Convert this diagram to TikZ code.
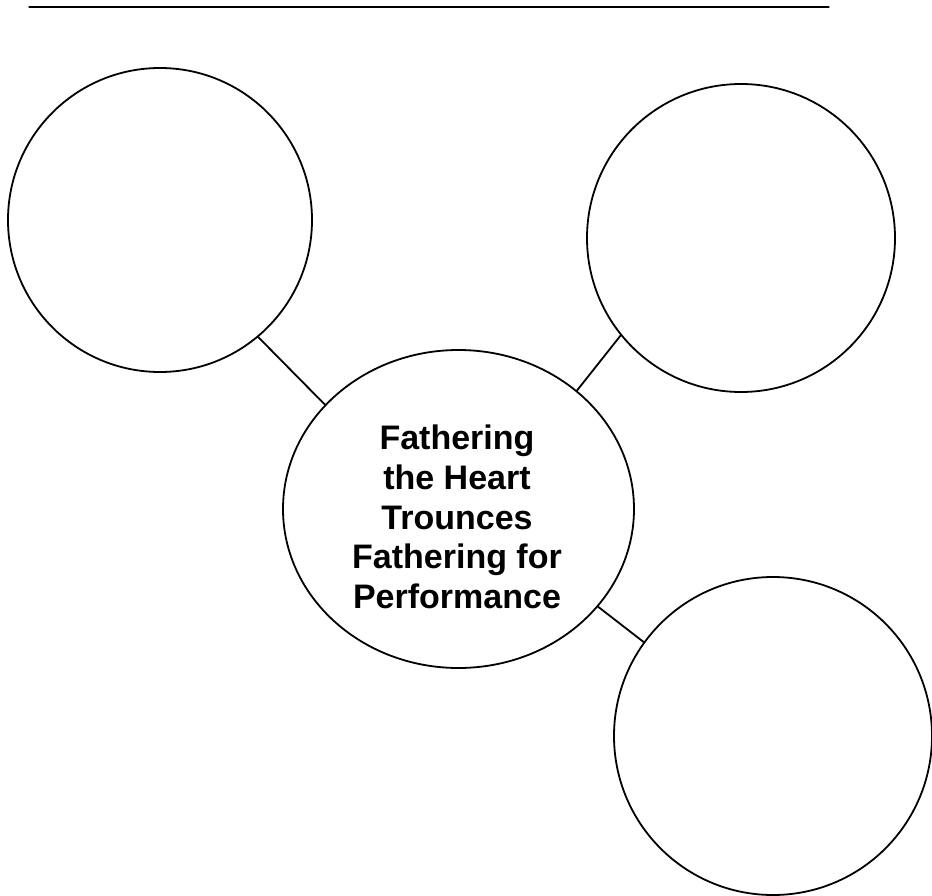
\documentclass[tikz,border=0pt]{standalone}
\usepackage{fontspec}
\setmainfont{Liberation Sans}
\usetikzlibrary{shapes.geometric}
\definecolor{qqqqqq}{rgb}{0.,0.,0.}
\tikzset{
  bubble/.style={draw=qqqqqq,circle,line width=1.8pt,inner sep=0pt,minimum size=#1},
  hub/.style={draw=qqqqqq,ellipse,line width=1.8pt,inner sep=0pt,minimum width=351pt,minimum height=318pt},
  hubtext/.style={align=center,inner sep=0pt,font=\bfseries\fontsize{34}{39.7}\selectfont},
  link/.style={draw=qqqqqq,line width=1.8pt}
}
\begin{document}
\begin{tikzpicture}[line cap=round,line join=round,x=1pt,y=-1pt]
    \useasboundingbox (0,0) rectangle (932,896);
    \draw [color=qqqqqq,line width=1.3pt] (29,7) -- (829,7);
    \node [bubble=304pt] (tl) at (160,220) {};
    \node [bubble=308pt] (tr) at (741,238) {};
    \node [bubble=318pt] (br) at (773,736) {};
    \node [hub] (mid) at (458.5,509) {};
    \node [hubtext] (midtext) at (457,517) {Fathering\\the Heart\\Trounces\\Fathering for\\Performance};
    \draw [link] (tl.-50.8) -- (mid.142.6);
    \draw [link] (tr.219.5) -- (mid.45.6);
    \draw [link] (mid.-35.5) -- (br.144);
\end{tikzpicture}
\end{document}
